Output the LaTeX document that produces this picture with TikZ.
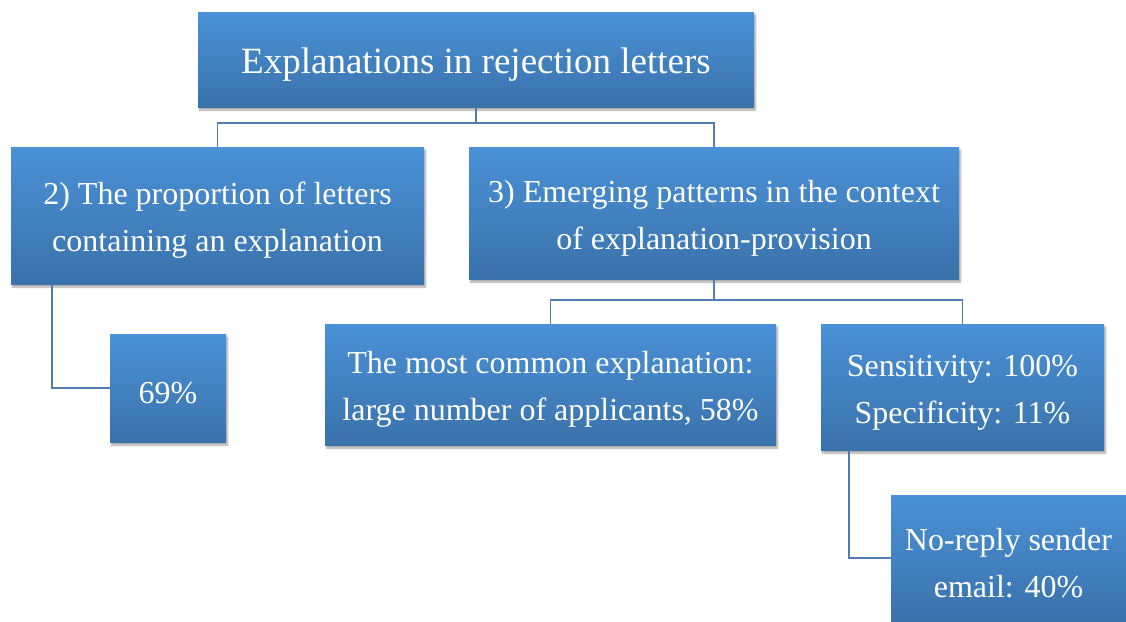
\documentclass[tikz,border=0pt]{standalone}
\usepackage{fontspec}
\setmainfont{Liberation Serif}
\usetikzlibrary{shadows.blur}
\definecolor{boxtop}{RGB}{74,145,215}
\definecolor{boxbot}{RGB}{58,114,170}
\definecolor{linkblue}{RGB}{80,126,180}
\newcommand{\lift}[1][32pt]{\rule{0pt}{#1}}
\tikzset{
	block/.style={top color=boxtop, bottom color=boxbot, text=white, align=center,
		inner sep=0pt, font=\fontsize{32}{47}\selectfont,
		blur shadow={shadow blur steps=6, shadow xshift=1.5pt, shadow yshift=-3pt, shadow opacity=35}},
	link/.style={draw=linkblue, line width=1.8pt}
}
\begin{document}
\begin{tikzpicture}[x=1pt,y=1pt]
	\useasboundingbox (0,0) rectangle (1126,-621);
	\node[block, minimum width=556pt, minimum height=95pt, font=\fontsize{37}{44}\selectfont] (title) at (476,-59.5) {\lift[35pt]Explanations in rejection letters};
	\node[block, minimum width=413pt, minimum height=137pt] (share) at (217.5,-215.5) {\lift 2) The proportion of letters\\containing an explanation};
	\node[block, minimum width=490pt, minimum height=132pt] (trends) at (714,-213) {\lift 3) Emerging patterns in the context\\of explanation-provision};
	\node[block, minimum width=116pt, minimum height=108pt] (pct) at (168,-388) {\lift 69\%};
	\node[block, minimum width=451pt, minimum height=121pt] (common) at (550.5,-384.5) {\lift The most common explanation:\\large number of applicants, 58\%};
	\node[block, minimum width=283pt, minimum height=126pt] (sens) at (962.5,-387) {\lift Sensitivity: 100\%\\Specificity: 11\%};
	\node[block, minimum width=235pt, minimum height=126pt] (noreply) at (1008.5,-558) {\lift No-reply sender\\email: 40\%};

	\draw[link] (title.south) -- ++(0,-16) coordinate (bus1);
	\draw[link] (bus1) -| (share.north);
	\draw[link] (bus1) -| (trends.north);
	\draw[link] ([xshift=41pt]share.south west) |- (pct.west);
	\draw[link] (trends.south) -- ++(0,-21) coordinate (bus2);
	\draw[link] (bus2) -| (common.north);
	\draw[link] (bus2) -| (sens.north);
	\draw[link] ([xshift=28pt]sens.south west) |- (noreply.west);
\end{tikzpicture}
\end{document}
